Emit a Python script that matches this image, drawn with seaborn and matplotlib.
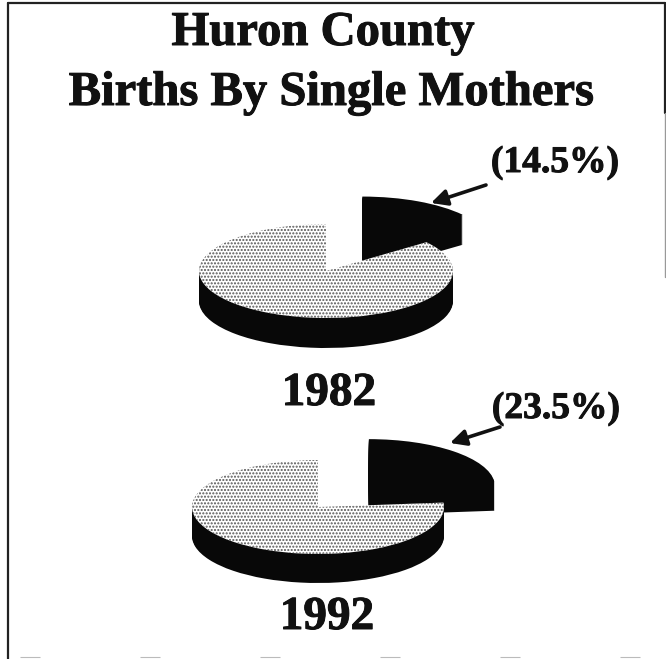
import matplotlib
matplotlib.use('Agg')
import matplotlib.pyplot as plt
import matplotlib.patheffects as pe
import seaborn as sns

title_lines = ['Huron County', 'Births By Single Mothers']
years = ['1982', '1992']
single_share = [14.5, 23.5]
other_share = [85.5, 76.5]
share_labels = ['(14.5%)', '(23.5%)']

W, H = 666, 659
sns.set_theme(style='white')
plt.rcParams['font.family'] = ['Liberation Serif', 'DejaVu Serif']
plt.rcParams['hatch.linewidth'] = 1.0

fig = plt.figure(figsize=(W / 100, H / 100), dpi=100, facecolor='white')
bg = fig.add_axes([0, 0, 1, 1])
bg.set_xlim(0, W)
bg.set_ylim(H, 0)
bg.axis('off')


def draw_pie(cx, cy, rx, ry, depth, pct, other, explode):
    # one axes per pie, squashed so the unit circle becomes the top ellipse
    box_w, box_h = 2.2 * rx, 4.4 * ry
    ax = fig.add_axes([(cx - box_w / 2) / W, 1 - (cy + box_h / 2) / H, box_w / W, box_h / H])
    vals = [pct, other]
    for d in range(depth, -1, -1):
        ax.pie(vals, startangle=90, counterclock=False, explode=[explode, 0],
               center=(0, -d / ry), colors=['#080808', 'none'], radius=1,
               wedgeprops={'linewidth': 0})
    for d in range(depth, 0, -1):
        ax.pie(vals, startangle=90, counterclock=False, explode=[explode, 0],
               center=(0, -d / ry), colors=['none', '#080808'], radius=1,
               wedgeprops={'linewidth': 0})
    wedges, _ = ax.pie(vals, startangle=90, counterclock=False, explode=[explode, 0],
                       colors=['none', 'white'], radius=1, wedgeprops={'linewidth': 0})
    wedges[1].set_hatch('.....')
    wedges[1].set_edgecolor('#555555')
    ax.set_aspect('auto')
    ax.set_xlim(-1.1, 1.1)
    ax.set_ylim(-2.2, 2.2)
    ax.axis('off')


draw_pie(326, 271, 127, 47, 30, single_share[0], other_share[0], 0.65)
draw_pie(318, 507, 126, 47, 29, single_share[1], other_share[1], 0.60)

# scanned frame
bg.plot([8, 8], [3, 659], color='#222222', lw=1.6)
bg.plot([8, 665], [3, 3], color='#222222', lw=1.6)
bg.plot([665, 665], [3, 113], color='#222222', lw=1.6)
bg.plot([665, 665], [113, 277], color='#999999', lw=1.0)
bg.plot([20, 640], [657, 657], color='#bbbbbb', lw=0.8, dashes=(18, 90))

heavy = [pe.withStroke(linewidth=0.7, foreground='#111111')]
text_style = dict(ha='center', va='baseline', fontweight='bold', color='#111111', path_effects=heavy)
bg.text(323, 45, title_lines[0], fontsize=35, **text_style)
bg.text(331.5, 105, title_lines[1], fontsize=35, **text_style)
bg.text(329, 405, years[0], fontsize=34, **text_style)
bg.text(327, 629, years[1], fontsize=34, **text_style)
bg.text(555, 172, share_labels[0], fontsize=27, **text_style)
bg.text(556, 418, share_labels[1], fontsize=27, **text_style)

for start, tip in [((486, 185), (431, 203)), ((500, 427), (450, 443))]:
    bg.annotate('', xy=tip, xytext=start,
                arrowprops=dict(arrowstyle='-|>,head_length=0.8,head_width=0.4', color='#111111',
                                lw=2.6, shrinkA=0, shrinkB=0))

fig.savefig('out.png', dpi=100)
